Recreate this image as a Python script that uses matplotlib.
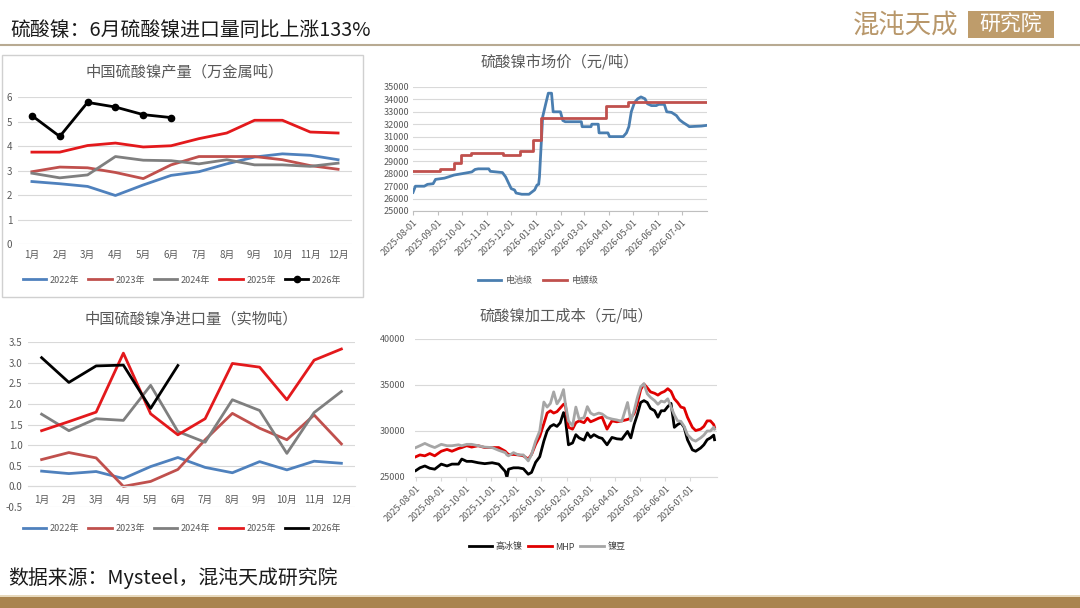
import matplotlib
matplotlib.use('Agg')
import matplotlib.pyplot as plt
import matplotlib.dates as mdates
from matplotlib.patches import Rectangle
import numpy as np
import pandas as pd

plt.rcParams['font.family'] = ['Noto Sans CJK SC', 'DejaVu Sans']
plt.rcParams['axes.unicode_minus'] = False

# ---------------- 数据 ----------------
months = ['1月', '2月', '3月', '4月', '5月', '6月', '7月', '8月', '9月', '10月', '11月', '12月']
years = ['2022年', '2023年', '2024年', '2025年', '2026年']

# 中国硫酸镍产量（万金属吨）
prod_2022 = [2.55, 2.46, 2.35, 1.98, 2.41, 2.80, 2.95, 3.27, 3.55, 3.68, 3.62, 3.44]
prod_2023 = [2.95, 3.14, 3.11, 2.92, 2.67, 3.23, 3.57, 3.57, 3.57, 3.44, 3.20, 3.05]
prod_2024 = [2.89, 2.70, 2.82, 3.57, 3.42, 3.40, 3.27, 3.44, 3.23, 3.23, 3.17, 3.30]
prod_2025 = [3.75, 3.75, 4.02, 4.12, 3.96, 4.01, 4.30, 4.53, 5.05, 5.05, 4.57, 4.53]
prod_2026 = [5.24, 4.39, 5.78, 5.59, 5.28, 5.16]

# 中国硫酸镍净进口量（实物吨）
imp_2022 = [0.37, 0.31, 0.36, 0.19, 0.48, 0.70, 0.46, 0.33, 0.60, 0.40, 0.61, 0.56]
imp_2023 = [0.65, 0.82, 0.69, 0.00, 0.12, 0.41, 1.13, 1.77, 1.41, 1.13, 1.73, 1.03]
imp_2024 = [1.75, 1.35, 1.64, 1.60, 2.45, 1.33, 1.07, 2.10, 1.84, 0.80, 1.79, 2.30]
imp_2025 = [1.35, 1.57, 1.80, 3.23, 1.76, 1.25, 1.64, 2.98, 2.89, 2.10, 3.06, 3.33]
imp_2026 = [3.12, 2.52, 2.92, 2.94, 1.89, 2.93]

# 硫酸镍市场价（元/吨）- 电镀级（阶梯价）
plate_dates = ['2025-08-01', '2025-09-03', '2025-09-21', '2025-09-29', '2025-10-12', '2025-11-21',
               '2025-12-12', '2025-12-28', '2026-01-07', '2026-03-29', '2026-04-25', '2026-07-31']
plate_price = [28200, 28400, 28900, 29500, 29700, 29500,
               29800, 30700, 32500, 33500, 33750, 33750]

# 电池级
battery_dates = ['2025-08-01', '2025-08-04', '2025-08-15', '2025-08-19', '2025-08-26', '2025-08-29',
                 '2025-09-09', '2025-09-14', '2025-09-21', '2025-09-30', '2025-10-13', '2025-10-17',
                 '2025-10-21', '2025-11-03', '2025-11-05', '2025-11-20', '2025-11-24', '2025-11-28',
                 '2025-12-01', '2025-12-05', '2025-12-07', '2025-12-14', '2025-12-23', '2025-12-30',
                 '2026-01-02', '2026-01-04', '2026-01-05', '2026-01-07', '2026-01-09', '2026-01-13',
                 '2026-01-16', '2026-01-20', '2026-01-22', '2026-01-31', '2026-02-03', '2026-02-06',
                 '2026-02-26', '2026-02-27', '2026-03-10', '2026-03-11', '2026-03-19', '2026-03-20',
                 '2026-03-31', '2026-04-02', '2026-04-19', '2026-04-23', '2026-04-26', '2026-04-29',
                 '2026-05-03', '2026-05-07', '2026-05-11', '2026-05-16', '2026-05-19', '2026-05-24',
                 '2026-05-30', '2026-06-02', '2026-06-09', '2026-06-12', '2026-06-18', '2026-06-24',
                 '2026-06-28', '2026-07-02', '2026-07-08', '2026-07-10', '2026-07-25', '2026-07-31']
battery_price = [26500, 27000, 27000, 27150, 27200, 27550,
                 27650, 27750, 27900, 28000, 28150, 28350,
                 28400, 28400, 28200, 28100, 27750, 27200,
                 26800, 26700, 26450, 26350, 26350, 26700,
                 27100, 27150, 27750, 30200, 32600, 33700,
                 34500, 34500, 33000, 33000, 32300, 32200,
                 32200, 31800, 31800, 32000, 32000, 31300,
                 31300, 31000, 31000, 31300, 31800, 33000,
                 33750, 34050, 34200, 34050, 33650, 33500,
                 33500, 33600, 33600, 33000, 32950, 32700,
                 32350, 32150, 31900, 31800, 31850, 31900]

# 硫酸镍加工成本（元/吨）
cost_dates = ['2025-08-01', '2025-08-06', '2025-08-12', '2025-08-18', '2025-08-24', '2025-09-01',
              '2025-09-08', '2025-09-14', '2025-09-22', '2025-09-26', '2025-10-02', '2025-10-08',
              '2025-10-16', '2025-10-24', '2025-11-02', '2025-11-10', '2025-11-18', '2025-11-20',
              '2025-11-22', '2025-11-28', '2025-12-04', '2025-12-10', '2025-12-16', '2025-12-20',
              '2025-12-25', '2025-12-30', '2026-01-04', '2026-01-08', '2026-01-12', '2026-01-16',
              '2026-01-20', '2026-01-24', '2026-01-28', '2026-01-30', '2026-02-03', '2026-02-08',
              '2026-02-12', '2026-02-16', '2026-02-22', '2026-02-26', '2026-03-02', '2026-03-06',
              '2026-03-12', '2026-03-16', '2026-03-22', '2026-03-28', '2026-04-03', '2026-04-09',
              '2026-04-16', '2026-04-20', '2026-04-24', '2026-04-28', '2026-05-02', '2026-05-06',
              '2026-05-10', '2026-05-14', '2026-05-19', '2026-05-23', '2026-05-27', '2026-05-31',
              '2026-06-04', '2026-06-08', '2026-06-12', '2026-06-16', '2026-06-20', '2026-06-24',
              '2026-06-28', '2026-07-04', '2026-07-08', '2026-07-14', '2026-07-18', '2026-07-22',
              '2026-07-26', '2026-07-30', '2026-07-31']
cost_matte = [25700, 26000, 26200, 25950, 25850, 26400,
              26200, 26400, 26400, 26950, 26700, 26700,
              26550, 26450, 26550, 26400, 25600, 24950,
              25850, 26000, 26000, 25900, 25300, 25500,
              26600, 27200, 28900, 30000, 30500, 30700,
              30500, 30900, 32000, 31450, 28500, 28700,
              29600, 29250, 29000, 29800, 29300, 29600,
              29300, 29200, 28500, 29300, 29150, 29100,
              29950, 29250, 30700, 31800, 33100, 33300,
              33100, 32450, 32200, 31500, 32200, 32200,
              32650, 33000, 30400, 30700, 30900, 30400,
              29050, 27950, 27800, 28150, 28500, 29050,
              29250, 29550, 29050]
cost_mhp = [27200, 27400, 27300, 27550, 27300, 27800,
            28000, 27800, 28100, 28200, 28400, 28250,
            28400, 28200, 28200, 28200, 27800, 27600,
            27450, 27450, 27400, 27300, 26950, 27450,
            28550, 29400, 30800, 31950, 32200, 31950,
            32100, 32500, 32900, 32950, 30400, 30200,
            30900, 31100, 30900, 31400, 31000, 31150,
            31400, 31500, 30200, 31100, 31000, 31100,
            31250, 31400, 31900, 33000, 34500, 35100,
            34700, 34250, 34100, 33900, 34150, 34300,
            34600, 34300, 33500, 33100, 32600, 32500,
            31500, 30400, 30050, 30200, 30500, 31100,
            31100, 30700, 30400]
cost_bean = [28200, 28400, 28650, 28400, 28200, 28550,
             28400, 28400, 28500, 28400, 28550, 28550,
             28400, 28250, 28200, 27900, 27650, 27400,
             27300, 27650, 27400, 27400, 26750, 27450,
             28900, 30000, 33150, 32600, 33000, 34250,
             32950, 33500, 34500, 33100, 31100, 30550,
             32600, 31300, 31450, 32650, 31950, 31750,
             31950, 31850, 31450, 31300, 31200, 31050,
             33100, 31100, 32200, 33650, 34800, 35150,
             34050, 33650, 33300, 32900, 33250, 33150,
             33500, 32600, 31750, 31100, 31050, 30500,
             29600, 29050, 28900, 29250, 29550, 30000,
             30000, 30400, 30200]

# ---------------- 画图 ----------------
W, H = 1080, 608
fig = plt.figure(figsize=(W / 100, H / 100), dpi=100)
fig.patch.set_facecolor('white')

GRID = '#D9D9D9'
TXT = '#595959'
year_colors = ['#4F81BD', '#C0504D', '#7F7F7F', '#E3191C', '#000000']


def box(x0, y0, x1, y1):
    # 像素坐标(左上原点) -> figure坐标
    return [x0 / W, 1 - y1 / H, (x1 - x0) / W, (y1 - y0) / H]


def style(ax, size=7):
    for s in ax.spines.values():
        s.set_visible(False)
    ax.grid(axis='y', color=GRID, lw=0.8)
    ax.set_axisbelow(True)
    ax.tick_params(length=0, labelsize=size, labelcolor=TXT, pad=4)


# 页眉
fig.text(10 / W, 1 - 30 / H, '硫酸镍：6月硫酸镍进口量同比上涨133%', fontsize=14.3, va='center', ha='left', color='#1a1a1a')
fig.add_artist(plt.Line2D([0, 1], [1 - 45 / H, 1 - 45 / H], color='#B8AA92', lw=1.5))
fig.text(906 / W, 1 - 25 / H, '混沌天成', fontsize=19, va='center', ha='center', color='#B8976A', fontweight='light')
fig.add_artist(Rectangle((968 / W, 1 - 38 / H), 86 / W, 27 / H, transform=fig.transFigure,
                         facecolor='#BE9C6B', edgecolor='none'))
fig.text(1011 / W, 1 - 25 / H, '研究院', fontsize=15, va='center', ha='center', color='white')

# 页脚
fig.text(8 / W, 1 - 578 / H, '数据来源：Mysteel，混沌天成研究院', fontsize=14.3, va='center', ha='left', color='#1a1a1a')
fig.add_artist(Rectangle((0, 0), 1, 11 / H, transform=fig.transFigure, facecolor='#A9844F', edgecolor='none'))
fig.add_artist(plt.Line2D([0, 1], [12 / H, 12 / H], color='#E3D2B0', lw=1.2))

# 面板1边框
fig.add_artist(Rectangle((2 / W, 1 - 297 / H), 361 / W, 242 / H, transform=fig.transFigure,
                         facecolor='none', edgecolor='#D0D0D0', lw=1))

x = np.arange(12)

# ---- 中国硫酸镍产量 ----
ax1 = fig.add_axes(box(18, 97, 352, 244))
style(ax1)
prod = [prod_2022, prod_2023, prod_2024, prod_2025, prod_2026]
for i, (yr, vals) in enumerate(zip(years, prod)):
    if i == 4:
        ax1.plot(x[:len(vals)], vals, color=year_colors[i], lw=2, marker='o', ms=4.5, label=yr)
    else:
        ax1.plot(x[:len(vals)], vals, color=year_colors[i], lw=2, label=yr)
ax1.set_xlim(-0.5, 11.5)
ax1.set_ylim(0, 6)
ax1.set_yticks(range(0, 7))
ax1.set_xticks(x)
ax1.set_xticklabels(months)
ax1.tick_params(axis='y', pad=4)
ax1.set_title('中国硫酸镍产量（万金属吨）', fontsize=11, color=TXT, pad=15)
ax1.legend(loc='center', bbox_to_anchor=(182 / W, 1 - 280 / H), bbox_transform=fig.transFigure,
           ncol=5, frameon=False, fontsize=6.5, handlelength=2.6, columnspacing=1.0,
           handletextpad=0.4, labelcolor=TXT)

# ---- 中国硫酸镍净进口量 ----
ax2 = fig.add_axes(box(28, 342, 355, 507))
style(ax2)
imp = [imp_2022, imp_2023, imp_2024, imp_2025, imp_2026]
for i, (yr, vals) in enumerate(zip(years, imp)):
    ax2.plot(x[:len(vals)], vals, color=year_colors[i], lw=2, label=yr)
ax2.set_xlim(-0.5, 11.5)
ax2.set_ylim(-0.5, 3.5)
ax2.set_yticks(np.arange(-0.5, 3.51, 0.5))
ax2.set_yticklabels(['%.1f' % v for v in np.arange(-0.5, 3.51, 0.5)])
ax2.spines['bottom'].set_visible(True)
ax2.spines['bottom'].set_position(('data', 0))
ax2.spines['bottom'].set_color(GRID)
ax2.set_xticks(x)
ax2.set_xticklabels(months)
ax2.tick_params(axis='x', pad=6)
ax2.set_title('中国硫酸镍净进口量（实物吨）', fontsize=11, color=TXT, pad=13)
ax2.legend(loc='center', bbox_to_anchor=(182 / W, 1 - 529 / H), bbox_transform=fig.transFigure,
           ncol=5, frameon=False, fontsize=6.5, handlelength=2.6, columnspacing=1.0,
           handletextpad=0.4, labelcolor=TXT)

month_ticks = pd.date_range('2025-08-01', '2026-07-01', freq='MS')

# ---- 硫酸镍市场价 ----
ax3 = fig.add_axes(box(413, 87, 707, 211))
style(ax3, 6.5)
ax3.plot(pd.to_datetime(battery_dates), battery_price, color='#4A7EB0', lw=2, label='电池级')
ax3.plot(pd.to_datetime(plate_dates), plate_price, color='#C0504D', lw=2, drawstyle='steps-post', label='电镀级')
ax3.set_xlim(pd.Timestamp('2025-08-01'), pd.Timestamp('2026-08-01'))
ax3.set_ylim(25000, 35000)
ax3.set_yticks(range(25000, 35001, 1000))
ax3.set_xticks(month_ticks)
ax3.xaxis.set_major_formatter(mdates.DateFormatter('%Y-%m-%d'))
ax3.spines['bottom'].set_visible(True)
ax3.spines['bottom'].set_color('#BFBFBF')
ax3.tick_params(axis='x', length=3, color='#BFBFBF', pad=2)
ax3.tick_params(axis='y', pad=3)
plt.setp(ax3.get_xticklabels(), rotation=45, ha='right', rotation_mode='anchor')
ax3.set_title('硫酸镍市场价（元/吨）', fontsize=11, color=TXT, pad=15)
ax3.legend(loc='center', bbox_to_anchor=(538 / W, 1 - 281 / H), bbox_transform=fig.transFigure,
           ncol=2, frameon=False, fontsize=6.5, handlelength=2.6, columnspacing=1.2,
           handletextpad=0.5, labelcolor=TXT)

# ---- 硫酸镍加工成本 ----
ax4 = fig.add_axes(box(415, 339, 717, 477))
style(ax4, 6.5)
cd = pd.to_datetime(cost_dates)
ax4.plot(cd, cost_matte, color='#000000', lw=2, label='高冰镍')
ax4.plot(cd, cost_mhp, color='#E00000', lw=2, label='MHP')
ax4.plot(cd, cost_bean, color='#A6A6A6', lw=2, label='镍豆')
ax4.set_xlim(pd.Timestamp('2025-07-31'), pd.Timestamp('2026-08-03'))
ax4.set_ylim(25000, 40000)
ax4.set_yticks(range(25000, 40001, 5000))
ax4.set_xticks(month_ticks)
ax4.xaxis.set_major_formatter(mdates.DateFormatter('%Y-%m-%d'))
ax4.spines['bottom'].set_visible(True)
ax4.spines['bottom'].set_color('#D9D9D9')
ax4.tick_params(axis='x', length=3, color='#D9D9D9', pad=2)
ax4.tick_params(axis='y', pad=7)
plt.setp(ax4.get_xticklabels(), rotation=45, ha='right', rotation_mode='anchor')
ax4.set_title('硫酸镍加工成本（元/吨）', fontsize=11, color=TXT, pad=13)
ax4.legend(loc='center', bbox_to_anchor=(547 / W, 1 - 547 / H), bbox_transform=fig.transFigure,
           ncol=3, frameon=False, fontsize=6.5, handlelength=2.6, columnspacing=0.6,
           handletextpad=0.4, labelcolor='#404040')

fig.savefig('out.png', dpi=100, facecolor='white')
